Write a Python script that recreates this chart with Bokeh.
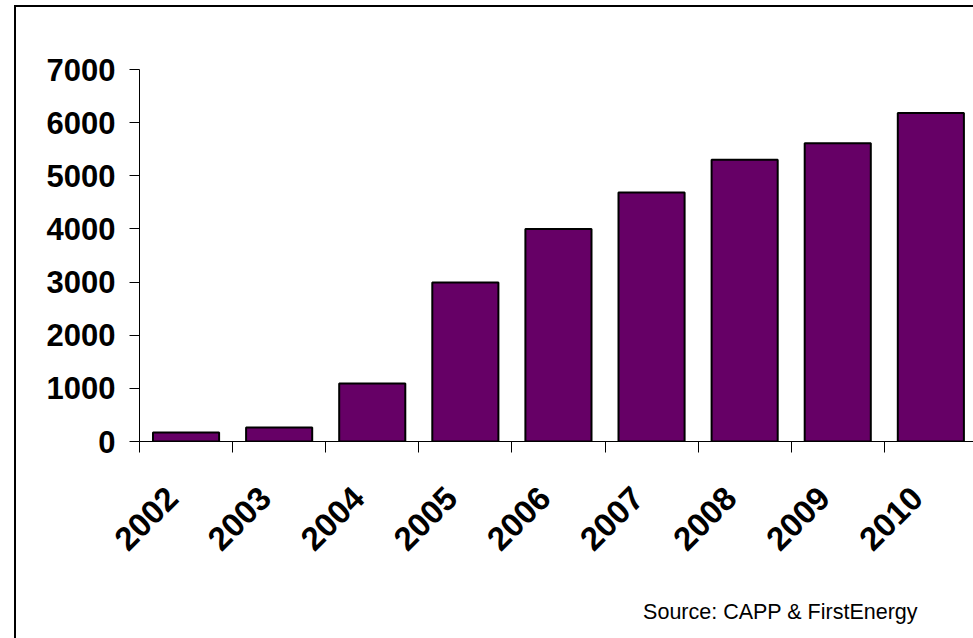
from bokeh.plotting import figure
from bokeh.layouts import column
from bokeh.models import Range1d, FixedTicker, ColumnDataSource, LinearAxis
from bokeh.embed import file_html
from bokeh.resources import INLINE

years = ["2002", "2003", "2004", "2005", "2006", "2007", "2008", "2009", "2010"]
values = [170, 262, 1090, 2990, 4000, 4685, 5300, 5610, 6180]
y_ticks = [0, 1000, 2000, 3000, 4000, 5000, 6000, 7000]
source_note = "Source: CAPP & FirstEnergy"

TICK_FONT = "Liberation Sans"
CAT_PX = 93.1
W, H = 957, 631
LEFT = 123
BOTTOM = 197

xs = [i + 0.5 for i in range(len(years))]
src = ColumnDataSource(dict(x=xs, top=values))

p = figure(
    width=W, height=H,
    x_range=Range1d(0, (W - LEFT) / CAT_PX), y_range=Range1d(0, 7000),
    output_backend="svg", toolbar_location=None,
    min_border_left=LEFT, min_border_right=0,
    min_border_top=62, min_border_bottom=BOTTOM,
)

p.vbar(x="x", top="top", bottom=0, width=0.71, source=src,
       fill_color="#660066", line_color="black", line_width=2)

p.grid.visible = False
p.outline_line_color = None
p.background_fill_color = "white"
p.border_fill_color = "white"

# y axis: plain thousands, ticks pointing outward
p.yaxis.ticker = FixedTicker(ticks=y_ticks)
p.yaxis.major_tick_out = 10
p.yaxis.major_tick_in = 0
p.yaxis.minor_tick_out = 0
p.yaxis.minor_tick_in = 0
p.yaxis.major_label_standoff = 14
p.yaxis.axis_line_color = "black"
p.yaxis.major_tick_line_color = "black"
p.yaxis.major_label_text_font_size = "31px"

# x axis: year labels under the bars, tick marks on category boundaries
label_pos = [x - 0.15 for x in xs]
p.xaxis.ticker = FixedTicker(ticks=label_pos, minor_ticks=list(range(len(years) + 1)))
p.xaxis.major_label_overrides = {x: y for x, y in zip(label_pos, years)}
p.xaxis.major_tick_out = 0
p.xaxis.major_tick_in = 0
p.xaxis.minor_tick_out = 11
p.xaxis.minor_tick_in = 0
p.xaxis.minor_tick_line_color = "black"
p.xaxis.axis_line_color = "black"
p.xaxis.major_label_orientation = 0.7854
p.xaxis.major_label_standoff = 40
p.xaxis.major_label_text_font_size = "33px"

for ax in (p.xaxis, p.yaxis):
    ax.major_label_text_font = TICK_FONT
    ax.major_label_text_font_style = "bold"
    ax.major_label_text_color = "black"

# source note as a bare second axis below the year labels
note_x = 6.885
note_axis = LinearAxis(
    ticker=FixedTicker(ticks=[note_x], minor_ticks=[]),
    major_label_overrides={note_x: source_note},
    axis_line_color=None, major_tick_line_color=None, minor_tick_line_color=None,
    major_tick_out=0, major_tick_in=0, minor_tick_out=0, minor_tick_in=0,
    major_label_standoff=36,
    major_label_text_font="Liberation Sans", major_label_text_font_size="21.5px",
    major_label_text_font_style="normal", major_label_text_color="black",
)
p.add_layout(note_axis, "below")

page = column(p, margin=(5, 0, 0, 14),
              styles={"border-left": "2px solid black", "border-top": "2px solid black"})

open("out.html", "w").write(file_html(page, INLINE))
